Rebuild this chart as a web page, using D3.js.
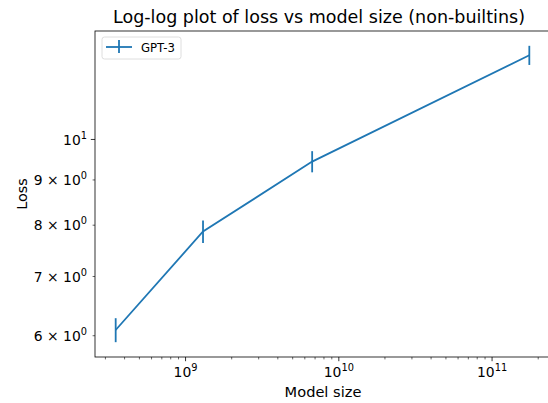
<!DOCTYPE html>
<html>
<head>
<meta charset="utf-8">
<script src="https://cdn.jsdelivr.net/npm/d3@7"></script>
<style>
  body { margin: 0; background: #fff; }
  svg { display: block; font-family: "DejaVu Sans", sans-serif; }
</style>
</head>
<body>
<svg id="chart" width="548" height="403"></svg>
<script>
// GPT-3 model sizes and losses
const seriesName = "GPT-3";
const modelSizes = [3.5e8, 1.3e9, 6.7e9, 1.75e11];
const losses = [6.09, 7.87, 9.44, 12.45];
const lossErrors = [0.19, 0.23, 0.26, 0.31];
const yTickValues = [6, 7, 8, 9, 10];

const svg = d3.select("#chart");
const margin = { top: 31, right: -2, bottom: 46, left: 95 };
const width = 548 - margin.left - margin.right;
const height = 403 - margin.top - margin.bottom;
const color = "#1f77b4";
const tickFont = 13.9, supFont = 9.8;

// matplotlib style 5% margins in log space
function logDomain(lo, hi) {
  const a = Math.log10(lo), b = Math.log10(hi), pad = (b - a) * 0.05;
  return [Math.pow(10, a - pad), Math.pow(10, b + pad)];
}

const x = d3.scaleLog()
  .domain(logDomain(d3.min(modelSizes), d3.max(modelSizes)))
  .range([0, width]);

const y = d3.scaleLog()
  .domain(logDomain(
    d3.min(losses.map((v, i) => v - lossErrors[i])),
    d3.max(losses.map((v, i) => v + lossErrors[i]))))
  .range([height, 0]);

const g = svg.append("g")
  .attr("transform", "translate(" + margin.left + "," + margin.top + ")");

// x ticks: majors at decades, minors at 2..9
const xTicks = x.ticks();
const xAxis = g.append("g").attr("transform", "translate(0," + height + ")");
xTicks.forEach(function (t) {
  const exp = Math.log10(t);
  const major = Math.abs(exp - Math.round(exp)) < 1e-9;
  xAxis.append("line")
    .attr("x1", x(t)).attr("x2", x(t))
    .attr("y1", 0).attr("y2", major ? 4.2 : 2.4)
    .attr("stroke", "#000").attr("stroke-width", major ? 0.8 : 0.6);
  if (major) {
    const txt = xAxis.append("text")
      .attr("x", x(t)).attr("y", 20)
      .attr("text-anchor", "middle")
      .attr("font-size", tickFont);
    txt.append("tspan").text("10");
    txt.append("tspan").attr("dy", -6).attr("font-size", supFont).text(Math.round(exp));
  }
});

// y ticks (all labelled)
const yAxis = g.append("g");
yTickValues.forEach(function (t) {
  const exp = Math.floor(Math.log10(t) + 1e-9);
  const mant = Math.round(t / Math.pow(10, exp));
  const major = mant === 1;
  yAxis.append("line")
    .attr("x1", 0).attr("x2", major ? -4.2 : -2.4)
    .attr("y1", y(t)).attr("y2", y(t))
    .attr("stroke", "#000").attr("stroke-width", major ? 0.8 : 0.6);
  const txt = yAxis.append("text")
    .attr("x", -8).attr("y", y(t) + 5.1)
    .attr("text-anchor", "end")
    .attr("font-size", tickFont);
  txt.append("tspan").text(major ? "10" : mant + " \u00d7 10");
  txt.append("tspan").attr("dy", -6).attr("font-size", supFont).text(exp);
});

// error bars
g.append("g").selectAll("line")
  .data(losses)
  .join("line")
  .attr("x1", (d, i) => x(modelSizes[i]))
  .attr("x2", (d, i) => x(modelSizes[i]))
  .attr("y1", (d, i) => y(d - lossErrors[i]))
  .attr("y2", (d, i) => y(d + lossErrors[i]))
  .attr("stroke", color).attr("stroke-width", 1.8);

// the line
const line = d3.line()
  .x((d, i) => x(modelSizes[i]))
  .y(d => y(d));
g.append("path")
  .datum(losses)
  .attr("fill", "none")
  .attr("stroke", color)
  .attr("stroke-width", 1.8)
  .attr("d", line);

// frame
g.append("rect")
  .attr("width", width).attr("height", height)
  .attr("fill", "none").attr("stroke", "#000").attr("stroke-width", 0.8);

// legend
const legend = g.append("g").attr("transform", "translate(7,6)");
legend.append("rect")
  .attr("width", 79).attr("height", 22).attr("rx", 2.5)
  .attr("fill", "#fff").attr("fill-opacity", 0.8)
  .attr("stroke", "#d6d6d6").attr("stroke-width", 0.8);
legend.append("line")
  .attr("x1", 4).attr("x2", 30).attr("y1", 10).attr("y2", 10)
  .attr("stroke", color).attr("stroke-width", 1.8);
legend.append("line")
  .attr("x1", 17).attr("x2", 17).attr("y1", 3).attr("y2", 16)
  .attr("stroke", color).attr("stroke-width", 1.8);
legend.append("text")
  .attr("x", 39).attr("y", 15)
  .attr("font-size", 11.7)
  .text(seriesName);

// labels
svg.append("text")
  .attr("x", 319).attr("y", 23)
  .attr("text-anchor", "middle")
  .attr("font-size", 17.5)
  .text("Log-log plot of loss vs model size (non-builtins)");

svg.append("text")
  .attr("x", 323).attr("y", 397)
  .attr("text-anchor", "middle")
  .attr("font-size", 14.6)
  .text("Model size");

svg.append("text")
  .attr("transform", "translate(27," + (margin.top + height / 2) + ") rotate(-90)")
  .attr("text-anchor", "middle")
  .attr("font-size", 14.4)
  .text("Loss");
</script>
</body>
</html>
